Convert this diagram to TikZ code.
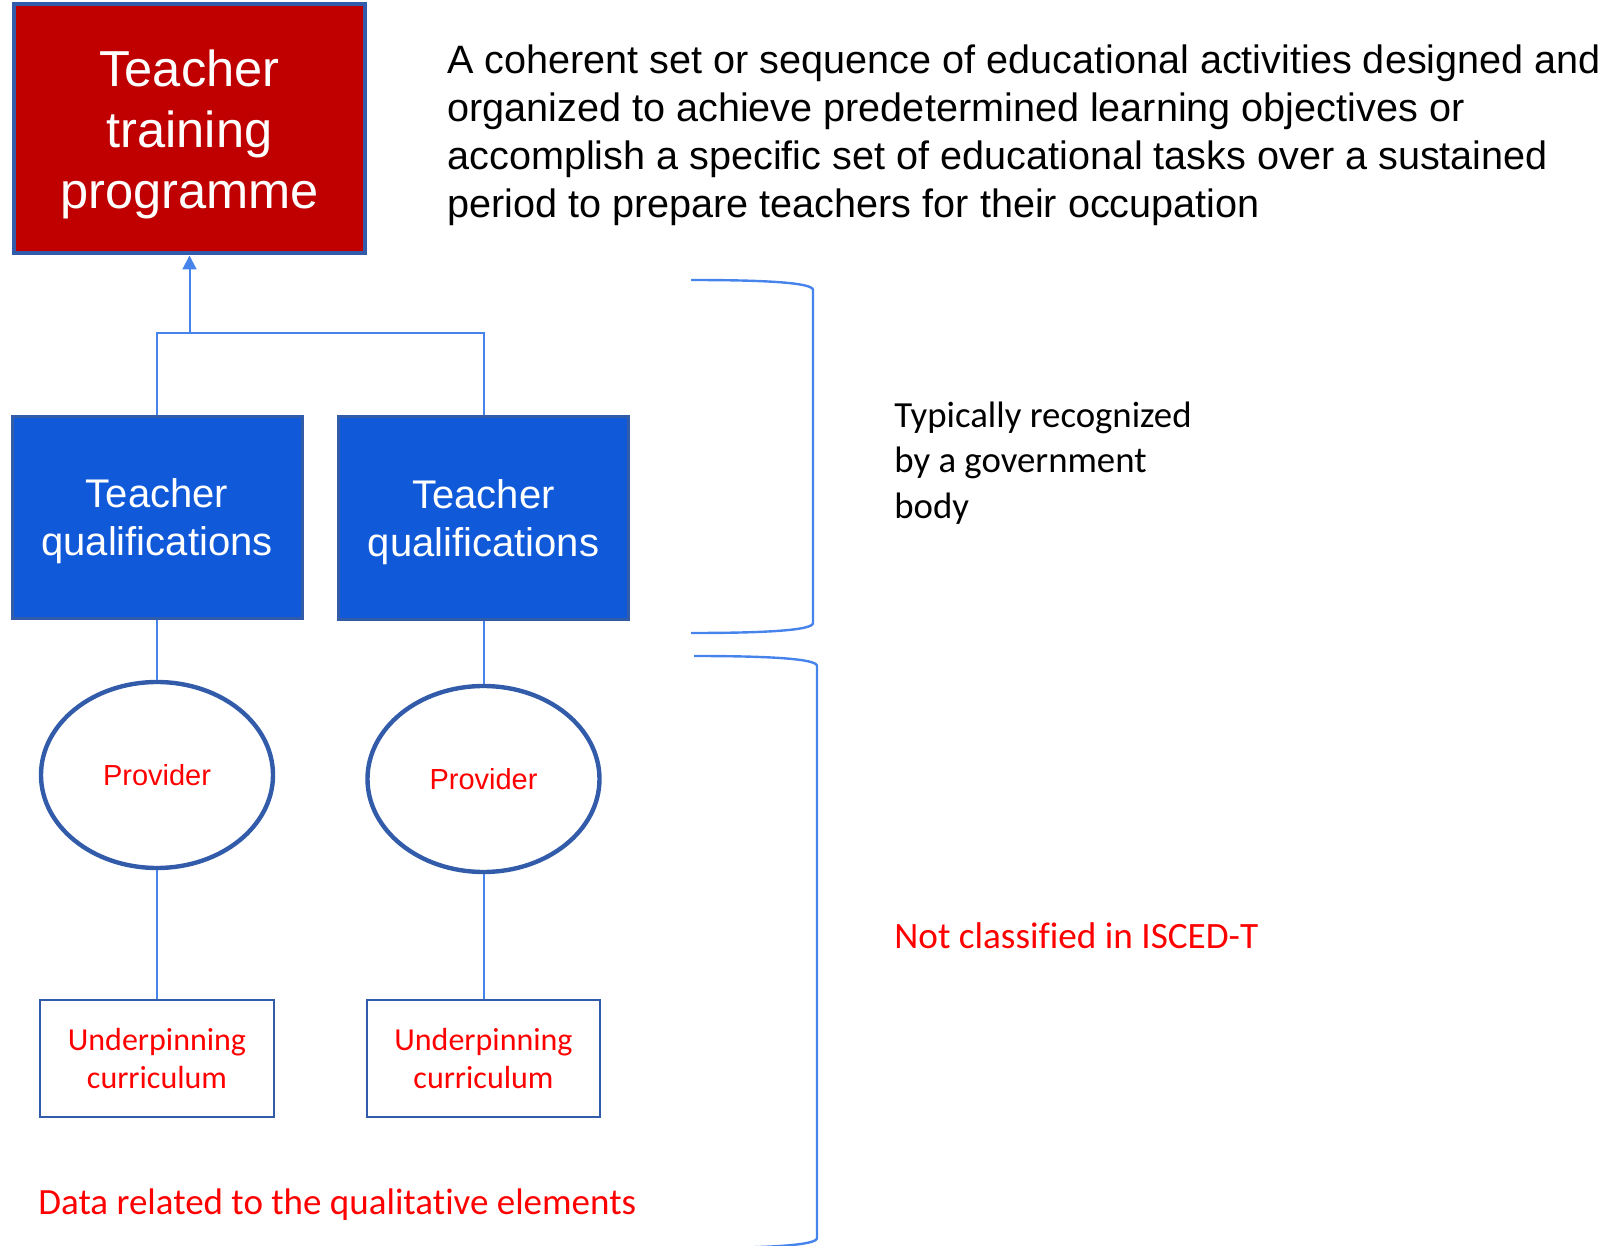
\documentclass[tikz,border=0pt]{standalone}
\usepackage{fontspec}
\usepackage{xcolor}
\usepackage{tikz}
\setmainfont{Liberation Sans}
\newfontfamily\calibri[Ligatures=NoCommon]{Carlito}
\usetikzlibrary{shapes.geometric, arrows.meta, positioning, calc}
\definecolor{progred}{RGB}{192, 0, 0}
\definecolor{edgeblue}{RGB}{50, 92, 170}
\definecolor{qualblue}{RGB}{16, 90, 218}
\definecolor{linkblue}{RGB}{70, 132, 236}
\definecolor{notered}{RGB}{255, 0, 0}

\begin{document}
\begin{tikzpicture}[
    x=0.5pt, y=-0.5pt,
    programme/.style={rectangle, draw=edgeblue, line width=2pt, fill=progred, text=white, minimum width=175.5pt, minimum height=124.5pt, align=center, inner sep=0pt, text depth=-0.5pt, font=\fontsize{25.3}{30.5}\selectfont},
    qualbox/.style={rectangle, draw=edgeblue, line width=1.5pt, fill=qualblue, text=white, minimum width=145pt, minimum height=101pt, align=center, inner sep=0pt, text depth=-1.5pt, font=\fontsize{20}{24}\selectfont},
    provider/.style={ellipse, draw=edgeblue, line width=2.2pt, fill=white, text=notered, minimum width=116pt, minimum height=93pt, inner sep=0pt, font=\fontsize{14.5}{17}\selectfont},
    curriculum/.style={rectangle, draw=edgeblue, line width=1.2pt, fill=white, text=notered, minimum width=116.75pt, minimum height=58.25pt, align=center, inner sep=0pt, text depth=-1pt, font=\calibri\fontsize{16}{19}\selectfont},
    note/.style={anchor=west, align=left, inner sep=0pt},
    link/.style={draw=linkblue, line width=1pt},
    bracket/.style={draw=linkblue, line width=1.2pt}
]
    \useasboundingbox (0,0) rectangle (1619,1246);

    % Programme
    \node[programme] (prog) at (189.5,129) {Teacher\\training\\programme};
    \node[note, font=\fontsize{19.8}{24}\selectfont] (defn) at (447,135) {A coherent set or sequence of educational activities designed and\\organized to achieve predetermined learning objectives or\\accomplish a specific set of educational tasks over a sustained\\period to prepare teachers for their occupation};

    % Qualifications
    \node[qualbox] (qual1) at (157,517.5) {Teacher\\qualifications};
    \node[qualbox] (qual2) at (483.5,518) {Teacher\\qualifications};

    % Providers
    \node[provider] (prov1) at (157,775) {Provider};
    \node[provider] (prov2) at (483.5,779) {Provider};

    % Curricula
    \node[curriculum] (curr1) at (157,1058.5) {Underpinning\\curriculum};
    \node[curriculum] (curr2) at (483.5,1058.5) {Underpinning\\curriculum};

    % Notes
    \node[note, text=notered, font=\calibri\fontsize{18.5}{22}\selectfont] (qualdata) at (38,1205) {Data related to the qualitative elements};
    \node[note, font=\calibri\fontsize{18.4}{22.7}\selectfont] (govnote) at (894,463) {Typically recognized\\by a government\\body};
    \node[note, text=notered, font=\calibri\fontsize{18.6}{22}\selectfont] (isced) at (894,936) {Not classified in ISCED-T};

    % Links
    \coordinate (mid) at (189.5,333);
    \draw[link] (qual1.north) |- (mid) -| (qual2.north);
    \draw[link, -{Triangle[width=7pt, length=7pt]}] (mid) -- (prog.south);
    \draw[link] (qual1) -- (prov1);
    \draw[link] (qual2) -- (prov2);
    \draw[link] (prov1) -- (curr1);
    \draw[link] (prov2) -- (curr2);

    % Brackets
    \draw[bracket] (691,280) .. controls (770,280) and (813,283) .. (813,290) -- (813,623) .. controls (813,630) and (770,633) .. (691,633);
    \draw[bracket] (694,656) .. controls (773,656) and (817,659) .. (817,666) -- (817,1238) .. controls (817,1245) and (773,1248) .. (694,1248);
\end{tikzpicture}
\end{document}
